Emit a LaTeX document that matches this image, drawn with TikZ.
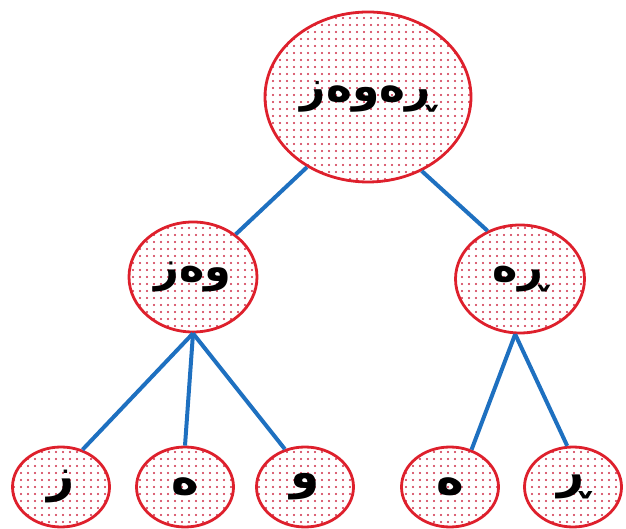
\documentclass[tikz,border=0pt]{standalone}
\usepackage{fontspec}
\usetikzlibrary{shapes.geometric,patterns.meta}
\TeXXeTstate=1
\newfontfamily\arabicfont[Script=Arabic]{DejaVu Sans}
\definecolor{ringred}{RGB}{222,32,44}
\definecolor{dotred}{RGB}{206,44,70}
\definecolor{branchblue}{RGB}{30,112,192}
\newcommand{\ku}[1]{{\arabicfont\bfseries\beginR #1\endR}}
\begin{document}
\begin{tikzpicture}[x=1pt, y=1pt]
        \tikzstyle{bubble}=[ellipse, draw=ringred, line width=2.8pt, inner sep=0pt,
            preaction={fill=white}, pattern={Dots[distance=7pt, radius=1.05pt]}, pattern color=dotred]
        \tikzstyle{branchline}=[draw=branchblue, line width=4pt]
        \useasboundingbox (0,0) rectangle (626,529);
        % root
        \node[bubble, minimum width=206pt, minimum height=170pt, font=\fontsize{44}{46}\selectfont] (rewez) at (368,432) {\ku{ڕەوەز}};
        % second row
        \node[bubble, minimum width=128pt, minimum height=110pt, font=\fontsize{43}{45}\selectfont] (wez) at (193,252) {\ku{وەز}};
        \node[bubble, minimum width=129pt, minimum height=108pt, font=\fontsize{43}{45}\selectfont] (re) at (520,250) {\ku{ڕە}};
        % letters
        \node[bubble, minimum width=97pt, minimum height=80pt, font=\fontsize{47}{49}\selectfont] (z) at (61,42) {\ku{ز}};
        \node[bubble, minimum width=97pt, minimum height=80pt, font=\fontsize{47}{49}\selectfont] (e1) at (185,42) {\ku{ە}};
        \node[bubble, minimum width=97pt, minimum height=80pt, font=\fontsize{47}{49}\selectfont] (w) at (305,42) {\ku{و}};
        \node[bubble, minimum width=97pt, minimum height=80pt, font=\fontsize{47}{49}\selectfont] (e2) at (450,42) {\ku{ە}};
        \node[bubble, minimum width=97pt, minimum height=80pt, font=\fontsize{47}{49}\selectfont] (r) at (573,42) {\ku{ڕ}};
        % branches
        \draw[branchline] (rewez.-131) -- (wez.45);
        \draw[branchline] (rewez.-54) -- (re.124);
        \draw[branchline] (wez.south) -- (z.60);
        \draw[branchline] (wez.south) -- (e1.north);
        \draw[branchline] (wez.south) -- (w.118);
        \draw[branchline] (re.-95) -- (e2.60);
        \draw[branchline] (re.-95) -- (r.98);
\end{tikzpicture}
\end{document}
